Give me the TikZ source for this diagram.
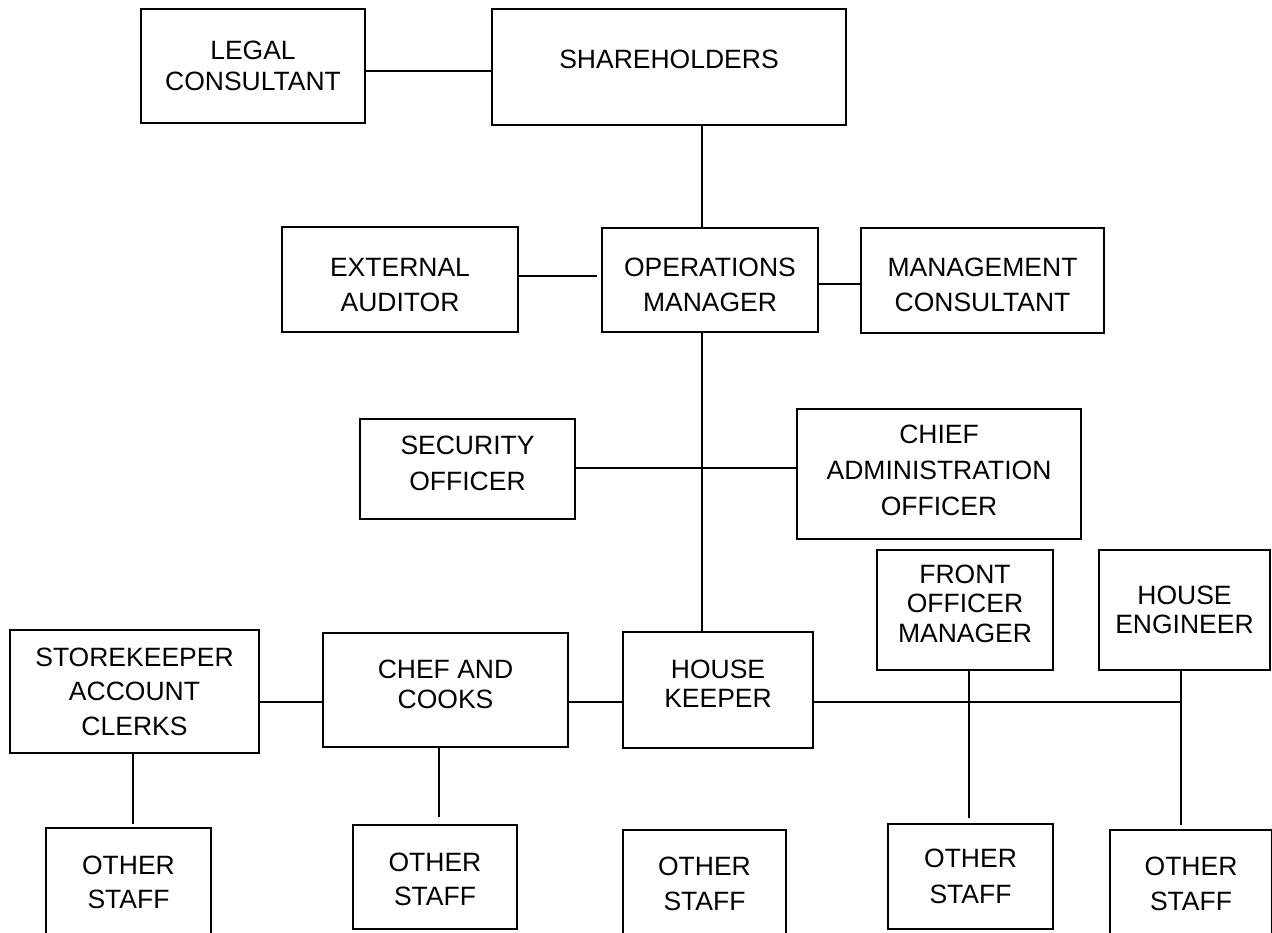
\documentclass[tikz,border=0pt]{standalone}
\usepackage{fontspec}
\setmainfont{Liberation Sans}
\begin{document}
\begin{tikzpicture}[x=1pt,y=-1pt,
  box/.style={draw, line width=1.6pt, inner sep=0pt, outer sep=0pt, align=center,
    font=\fontsize{26.5pt}{#1}\selectfont},
  box/.default=34pt,
  conn/.style={line width=1.6pt}]
\path[use as bounding box, clip] (0,0) rectangle (1272,933);
\fill[white] (0,0) rectangle (1272,933);

% boxes
\node[box=31pt, minimum width=224pt, minimum height=114pt] (legal) at (253,66) {LEGAL\\CONSULTANT};
\node[box, minimum width=354pt, minimum height=116pt, text depth=16pt] (share) at (669,67) {SHAREHOLDERS};
\node[box=35pt, minimum width=236pt, minimum height=105pt, text height=63.2pt, text depth=0pt] (ext) at (400,279.5) {EXTERNAL\\AUDITOR};
\node[box=35pt, minimum width=216pt, minimum height=104pt, text height=62.2pt, text depth=0pt] (ops) at (710,280) {OPERATIONS\\MANAGER};
\node[box=35pt, minimum width=243pt, minimum height=105pt, text height=61.2pt, text depth=0pt] (mgmt) at (982.5,280.5) {MANAGEMENT\\CONSULTANT};
\node[box=36pt, minimum width=215pt, minimum height=100pt, text depth=12pt] (sec) at (467.5,469) {SECURITY\\OFFICER};
\node[box=36pt, minimum width=284pt, minimum height=130pt, text depth=8pt] (chief) at (939,474) {CHIEF\\ADMINISTRATION\\OFFICER};
\node[box=29.5pt, minimum width=176pt, minimum height=120pt, text depth=13pt] (front) at (965,610) {FRONT\\OFFICER\\MANAGER};
\node[box=29pt, minimum width=171pt, minimum height=120pt] (eng) at (1184.5,610) {HOUSE\\ENGINEER};
\node[box=34.5pt, minimum width=249pt, minimum height=123pt] (store) at (134.5,691.5) {STOREKEEPER\\ACCOUNT\\CLERKS};
\node[box=30pt, minimum width=245pt, minimum height=114pt, text depth=12pt] (chef) at (445.5,690) {CHEF AND\\COOKS};
\node[box=29pt, minimum width=190pt, minimum height=116pt, text depth=12pt] (hk) at (718,690) {HOUSE\\KEEPER};
\node[box, minimum width=165pt, minimum height=108pt] (o1) at (128.5,882) {OTHER\\STAFF};
\node[box, minimum width=164pt, minimum height=104pt, text height=56.2pt, text depth=0pt] (o2) at (435,877) {OTHER\\STAFF};
\node[box=35pt, minimum width=163pt, minimum height=107pt] (o3) at (704.5,883.5) {OTHER\\STAFF};
\node[box=36pt, minimum width=165pt, minimum height=105pt] (o4) at (970.5,876.5) {OTHER\\STAFF};
\node[box=35pt, minimum width=162pt, minimum height=107pt] (o5) at (1191,883.5) {OTHER\\STAFF};

% rails and columns
\coordinate (r1) at (0,71);
\coordinate (r2) at (0,276);
\coordinate (r3) at (0,284);
\coordinate (r4) at (0,468);
\coordinate (r5) at (0,702);
\coordinate (spine) at (702,0);
\coordinate (fx) at (969,0);
\coordinate (ex) at (1181,0);
\coordinate (sx) at (133,0);
\coordinate (cx) at (439,0);

% connectors
\draw[conn] (legal.east |- r1) -- (share.west |- r1);
\draw[conn] (spine |- share.south) -- (spine |- ops.north);
\draw[conn] (ext.east |- r2) -- ([xshift=-5pt]ops.west |- r2);
\draw[conn] (ops.east |- r3) -- (mgmt.west |- r3);
\draw[conn] (spine |- ops.south) -- (spine |- hk.north);
\draw[conn] (sec.east |- r4) -- (chief.west |- r4);
\draw[conn] (store.east |- r5) -- (chef.west |- r5);
\draw[conn] (chef.east |- r5) -- (hk.west |- r5);
\draw[conn] (hk.east |- r5) -- (ex |- r5);
\draw[conn] (fx |- front.south) -- ([yshift=6pt]fx |- o4.north);
\draw[conn] (ex |- eng.south) -- ([yshift=5pt]ex |- o5.north);
\draw[conn] (sx |- store.south) -- ([yshift=4pt]sx |- o1.north);
\draw[conn] (cx |- chef.south) -- ([yshift=8pt]cx |- o2.north);
\end{tikzpicture}
\end{document}
